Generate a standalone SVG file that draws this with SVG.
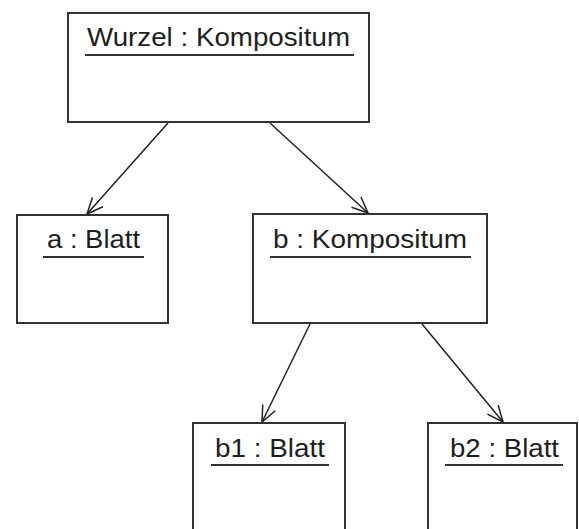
<svg xmlns="http://www.w3.org/2000/svg" width="579" height="529" viewBox="0 0 579 529">
  <defs>
    <style>
      .box { fill: #ffffff; stroke: #333333; stroke-width: 2; }
      .label { font-family: "Liberation Sans", Arial, sans-serif; font-size: 25px; fill: #1e1e1e; }
      .uline { stroke: #333333; stroke-width: 2; }
      .link { stroke: #222222; stroke-width: 1.5; fill: none; marker-end: url(#open-arrow); }
    </style>
    <marker id="open-arrow" markerUnits="userSpaceOnUse" markerWidth="20" markerHeight="20" refX="0" refY="0" orient="auto" viewBox="-18 -10 20 20" overflow="visible">
      <path d="M -16,-7 L 0,0 L -16,7" fill="none" stroke="#222222" stroke-width="1.5"/>
    </marker>
  </defs>

  <rect width="579" height="529" fill="#ffffff"/>

  <g id="connectors">
    <line class="link" x1="168" y1="123" x2="87" y2="214"/>
    <line class="link" x1="270" y1="123" x2="368" y2="213"/>
    <line class="link" x1="310" y1="324" x2="262" y2="422"/>
    <line class="link" x1="422" y1="324" x2="503" y2="422"/>
  </g>

  <g id="wurzel">
    <rect class="box" x="68" y="13" width="301" height="109"/>
    <text class="label" x="87" y="46" textLength="263" lengthAdjust="spacingAndGlyphs">Wurzel : Kompositum</text>
    <line class="uline" x1="85" y1="55" x2="354" y2="55"/>
  </g>

  <g id="a">
    <rect class="box" x="17" y="215" width="151" height="108"/>
    <text class="label" x="47" y="248" textLength="93" lengthAdjust="spacingAndGlyphs">a : Blatt</text>
    <line class="uline" x1="43" y1="257" x2="144" y2="257"/>
  </g>

  <g id="b">
    <rect class="box" x="253" y="214" width="234" height="109"/>
    <text class="label" x="273" y="248" textLength="194" lengthAdjust="spacingAndGlyphs">b : Kompositum</text>
    <line class="uline" x1="270" y1="257" x2="471" y2="257"/>
  </g>

  <g id="b1">
    <rect class="box" x="193" y="423" width="152" height="120"/>
    <text class="label" x="215" y="457" textLength="110" lengthAdjust="spacingAndGlyphs">b1 : Blatt</text>
    <line class="uline" x1="211" y1="465" x2="329" y2="465"/>
  </g>

  <g id="b2">
    <rect class="box" x="428" y="423" width="149" height="120"/>
    <text class="label" x="450" y="457" textLength="109" lengthAdjust="spacingAndGlyphs">b2 : Blatt</text>
    <line class="uline" x1="445" y1="465" x2="563" y2="465"/>
  </g>
</svg>
